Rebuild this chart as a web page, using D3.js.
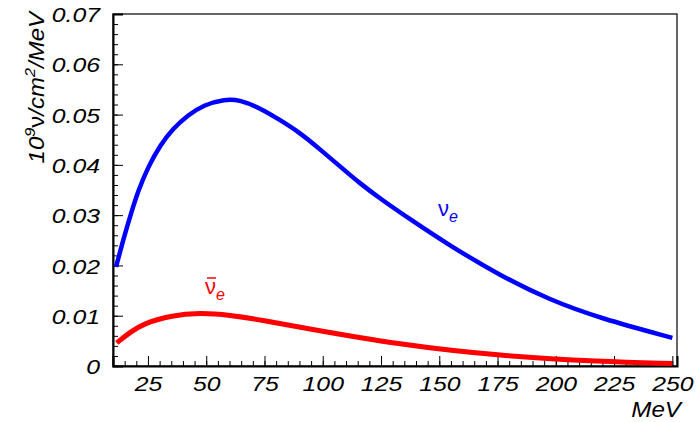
<!DOCTYPE html>
<html>
<head>
<meta charset="utf-8">
<script src="https://cdn.jsdelivr.net/npm/d3@7"></script>
<style>
  body { margin: 0; background: #fff; }
  text { font-family: "Liberation Sans", Arial, sans-serif; }
</style>
</head>
<body>
<div id="chart"></div>
<script>
// nu_e flux
const nueEnergy = [11.3, 14.4, 17.3, 20.9, 25.1, 30.2, 35.9, 42.3, 48.7, 58.1, 64.5, 73.1, 81.7, 90.2, 98.8, 107.4, 116.0, 124.6, 137.4, 154.6, 176.1, 197.5, 219.0, 250];
const nueFlux = [0.0197, 0.0251, 0.0297, 0.0350, 0.0396, 0.0439, 0.0473, 0.0499, 0.0519, 0.0531, 0.0529, 0.0513, 0.0489, 0.0464, 0.0431, 0.0397, 0.0363, 0.0333, 0.0292, 0.0239, 0.0180, 0.0131, 0.0095, 0.0056];
// anti nu_e flux
const nuebarEnergy = [11.6, 17.3, 22.9, 34.5, 47.4, 60.2, 73.1, 90.3, 133.2, 176.2, 219.1, 250];
const nuebarFlux = [0.0046, 0.0067, 0.0084, 0.0100, 0.0106, 0.0101, 0.0092, 0.0077, 0.0042, 0.0020, 0.00085, 0.0005];

const xTicks = [25, 50, 75, 100, 125, 150, 175, 200, 225, 250];
const yTicks = [0, 0.01, 0.02, 0.03, 0.04, 0.05, 0.06, 0.07];

const W = 698, H = 422;
const m = { left: 113, right: 21, top: 14, bottom: 56 };
const sx = 1.18; // labels in the plot are drawn a bit wide

const svg = d3.select("#chart").append("svg")
    .attr("width", W)
    .attr("height", H);

const x = d3.scaleLinear().domain([10, 252]).range([m.left, W - m.right]);
const y = d3.scaleLinear().domain([0, 0.07]).range([H - m.bottom, m.top]);

// frame
svg.append("rect")
    .attr("x", m.left).attr("y", m.top)
    .attr("width", W - m.right - m.left).attr("height", H - m.bottom - m.top)
    .attr("fill", "none").attr("stroke", "#000").attr("stroke-width", 1.2);

// minor ticks
svg.append("g")
    .attr("transform", `translate(0,${H - m.bottom})`)
    .call(d3.axisBottom(x).tickValues(d3.range(15, 252, 5)).tickSize(-5).tickFormat(""))
    .call(g => g.select(".domain").remove());
svg.append("g")
    .attr("transform", `translate(${m.left},0)`)
    .call(d3.axisLeft(y).tickValues(d3.range(0, 0.0701, 0.002)).tickSize(-5).tickFormat(""))
    .call(g => g.select(".domain").remove());

// major ticks + labels
const xAxis = svg.append("g")
    .attr("transform", `translate(0,${H - m.bottom})`)
    .call(d3.axisBottom(x).tickValues(xTicks).tickSize(-10).tickPadding(12));
const yAxis = svg.append("g")
    .attr("transform", `translate(${m.left},0)`)
    .call(d3.axisLeft(y).tickValues(yTicks).tickSize(-10)
      .tickFormat(d => d === 0 ? "0" : d.toFixed(2)));

[xAxis, yAxis].forEach(g => {
  g.select(".domain").attr("stroke-width", 2);
  g.selectAll(".tick line").attr("stroke", "#000");
  g.selectAll("text")
      .attr("fill", "#000")
      .style("font-size", "21px")
      .style("font-style", "italic");
});
xAxis.selectAll("text").attr("dy", "0.62em").attr("transform", `scale(${sx},1)`);
yAxis.selectAll("text").attr("dy", "0.36em")
    .attr("x", -13 / sx)
    .attr("transform", `scale(${sx},1)`);

// curves
const line = d3.line()
    .x(d => x(d[0]))
    .y(d => y(d[1]))
    .curve(d3.curveBasis);

svg.append("path")
    .datum(d3.zip(nueEnergy, nueFlux))
    .attr("d", line)
    .attr("fill", "none")
    .attr("stroke", "#0000ff")
    .attr("stroke-width", 4.5);

svg.append("path")
    .datum(d3.zip(nuebarEnergy, nuebarFlux))
    .attr("d", line)
    .attr("fill", "none")
    .attr("stroke", "#ff0000")
    .attr("stroke-width", 5);

// x title
svg.append("text")
    .attr("transform", `translate(681,417) scale(1.1,1)`)
    .attr("text-anchor", "end")
    .style("font-size", "22px").style("font-style", "italic")
    .text("MeV");

// y title
const yt = svg.append("text")
    .attr("transform", "translate(44,12) rotate(-90) scale(1.09,1)")
    .attr("text-anchor", "end")
    .style("font-size", "22px").style("font-style", "italic");
yt.append("tspan").text("10");
yt.append("tspan").attr("dy", -9).style("font-size", "15px").text("9");
yt.append("tspan").attr("dy", 9).style("font-style", "normal").text("ν");
yt.append("tspan").text("/cm");
yt.append("tspan").attr("dy", -9).style("font-size", "15px").text("2");
yt.append("tspan").attr("dy", 9).text("/MeV");

// curve labels
const nueLbl = svg.append("text")
    .attr("x", 438).attr("y", 216)
    .attr("fill", "#0000ff")
    .style("font-size", "22px");
nueLbl.append("tspan").text("ν");
nueLbl.append("tspan").attr("dy", 6).style("font-size", "16px").style("font-style", "italic").text("e");

const barLbl = svg.append("text")
    .attr("x", 205).attr("y", 294)
    .attr("fill", "#ff0000")
    .style("font-size", "22px");
barLbl.append("tspan").text("ν");
barLbl.append("tspan").attr("dy", 6).style("font-size", "16px").style("font-style", "italic").text("e");
svg.append("line")
    .attr("x1", 207).attr("x2", 216)
    .attr("y1", 278).attr("y2", 278)
    .attr("stroke", "#ff0000").attr("stroke-width", 1.5);
</script>
</body>
</html>
